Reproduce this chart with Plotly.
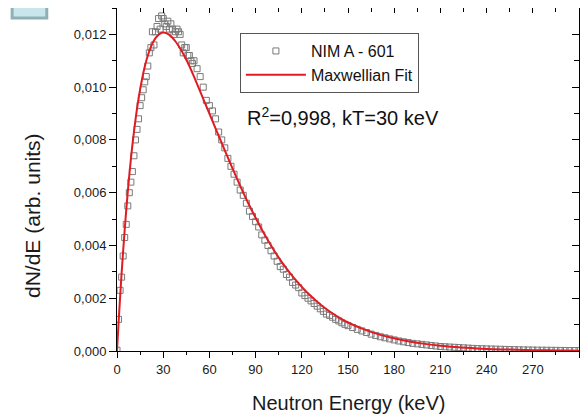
import plotly.graph_objects as go

# ---- data ----
data_energy = [0, 1, 2, 3, 4, 5, 6, 7, 8, 9, 10, 11, 12, 13, 14, 15, 16, 17, 18, 19,
               20, 21, 22, 23, 24, 25, 26, 27, 28, 29, 30, 31, 32, 33, 34, 35, 36, 37, 38, 39,
               40, 41, 42, 43, 44, 45, 46, 47, 48, 49, 50,
               52, 54, 56, 58, 60, 62, 64, 66, 68, 70, 72, 74, 76, 78, 80, 82, 84, 86, 88, 90,
               92, 94, 96, 98, 100, 102, 104, 106, 108, 110, 112, 114, 116, 118, 120, 122, 124,
               126, 128, 130, 132, 134, 136, 138, 140, 142, 144, 146, 148, 150,
               153, 156, 159, 162, 165, 168, 171, 174, 177, 180, 183, 186, 189, 192, 195, 198,
               201, 204, 207, 210, 213, 216, 219, 222, 225, 228, 231, 234, 237, 240, 243, 246,
               249, 252, 255, 258, 261, 264, 267, 270, 273, 276, 279, 282, 285, 288, 291, 294,
               297, 300]
data_values = [0.00003, 0.0012, 0.0023, 0.0028, 0.0036, 0.0043, 0.0048, 0.0055, 0.0060, 0.0064,
               0.0068, 0.0074, 0.0080, 0.0084, 0.0088, 0.0093, 0.0096, 0.0099, 0.0102, 0.0104,
               0.0108, 0.0113, 0.0115, 0.0121, 0.0116, 0.0121, 0.0123, 0.0126, 0.0122, 0.0127,
               0.0126, 0.0124, 0.0123, 0.0125, 0.0122, 0.0124, 0.0122, 0.0120, 0.0121, 0.0122,
               0.0121, 0.0120, 0.0116, 0.0113, 0.0115, 0.0115, 0.0112, 0.0112, 0.0110, 0.0109,
               0.0110,
               0.0107, 0.0104, 0.0100, 0.0095, 0.0093, 0.0091, 0.0088, 0.0083, 0.0080, 0.0077,
               0.0073, 0.0070, 0.0067, 0.0064, 0.0061, 0.0059, 0.0056, 0.0053, 0.0051, 0.0049,
               0.0047, 0.0044, 0.0042, 0.0040, 0.0038, 0.0036, 0.0034, 0.0032, 0.0031, 0.0029,
               0.0028, 0.0026, 0.0025, 0.0024, 0.0022, 0.0021, 0.0020, 0.0019, 0.0018, 0.0017,
               0.0016, 0.0015, 0.0014, 0.00135, 0.00128, 0.0012, 0.00114, 0.00107, 0.00101, 0.00096,
               0.00089, 0.00082, 0.00076, 0.00070, 0.00064, 0.00059, 0.00054, 0.00050, 0.00046,
               0.00042, 0.00038, 0.00035, 0.00032, 0.00029, 0.00027, 0.00025, 0.00023, 0.00021,
               0.00019, 0.00017, 0.00016, 0.00015, 0.00014, 0.00013, 0.00012, 0.00011, 0.00010,
               0.00009, 0.000085, 0.00008, 0.000075, 0.00007, 0.000065, 0.00006, 0.000055, 0.00005,
               0.000046, 0.000042, 0.000039, 0.000036, 0.000033, 0.00003, 0.000028, 0.000026,
               0.000024, 0.000022, 0.00002, 0.000018, 0.000017, 0.000016]

fit_energy = [0, 1, 2, 3, 4, 5, 6, 7, 8, 9, 10, 12, 14, 16, 18, 20, 22, 24, 26, 28, 30, 32, 34,
              36, 38, 40, 42, 44, 46, 48, 50, 55, 60, 65, 70, 75, 80, 85, 90, 95, 100, 105, 110,
              115, 120, 125, 130, 135, 140, 145, 150, 160, 170, 180, 190, 200, 210, 220, 230,
              240, 250, 260, 270, 280, 290, 300]
fit_values = [0.0, 0.00105, 0.00203, 0.00295, 0.0038, 0.0046, 0.00534, 0.00603, 0.00667, 0.00726,
              0.0078, 0.00876, 0.00957, 0.01023, 0.01077, 0.0112, 0.01153, 0.01177, 0.01193,
              0.01203, 0.01207, 0.01205, 0.01198, 0.01187, 0.01173, 0.01156, 0.01137, 0.01115,
              0.01092, 0.01067, 0.0104, 0.0097, 0.0090, 0.0083, 0.0076, 0.00692, 0.00626, 0.00563,
              0.00505, 0.0045, 0.0040, 0.00354, 0.00313, 0.00276, 0.00243, 0.00213, 0.00187,
              0.00163, 0.00142, 0.00124, 0.00108, 0.00083, 0.00063, 0.00048, 0.00036, 0.00027,
              0.0002, 0.00015, 0.00011, 0.00008, 0.00006, 0.000045, 0.000033, 0.000025, 0.000018,
              0.000013]

x_ticks = [0, 30, 60, 90, 120, 150, 180, 210, 240, 270, 300]
y_ticks = [0.000, 0.002, 0.004, 0.006, 0.008, 0.010, 0.012]

FONT = "Arial, Liberation Sans, sans-serif"

fig = go.Figure()
fig.add_trace(go.Scatter(
    x=data_energy, y=data_values, mode="markers", name="NIM A - 601",
    marker=dict(symbol="square-open", size=6, color="#7a7a7a", line=dict(width=1, color="#7a7a7a")),
))
fig.add_trace(go.Scatter(
    x=fit_energy, y=fit_values, mode="lines", name="Maxwellian Fit",
    line=dict(color="#e01b22", width=2, shape="spline"),
))
# dummy trace so the mirrored (inward tick) axes render
fig.add_trace(go.Scatter(x=[None], y=[None], xaxis="x2", yaxis="y2",
                         showlegend=False, hoverinfo="skip"))

axis_common = dict(showgrid=False, zeroline=False, showline=True, linecolor="black",
                   linewidth=1, tickcolor="black", tickwidth=1)

fig.update_layout(
    width=572, height=407,
    margin=dict(l=109, r=1, t=0, b=64),
    paper_bgcolor="white", plot_bgcolor="white",
    separators=", ",
    font=dict(family=FONT, color="#1a1a1a"),
    xaxis=dict(range=[0, 300], tickvals=x_ticks, ticks="outside", ticklen=6,
               minor=dict(dtick=15, tick0=0, ticks="outside", ticklen=3, tickcolor="black"),
               tickfont=dict(size=13, family=FONT, color="#1a1a1a"), **axis_common),
    yaxis=dict(range=[0, 0.0130], tickvals=y_ticks, tickformat=".3f", ticks="outside",
               ticklen=7, minor=dict(dtick=0.001, tick0=0, ticks="outside", ticklen=4,
                                     tickcolor="black"),
               tickfont=dict(size=13, family=FONT, color="#1a1a1a"), **axis_common),
    xaxis2=dict(range=[0, 300], overlaying="x", side="top", anchor="y", tickvals=x_ticks,
                ticks="inside", ticklen=5, showticklabels=False,
                minor=dict(dtick=15, tick0=0, ticks="inside", ticklen=4, tickcolor="black"),
                **axis_common),
    yaxis2=dict(range=[0, 0.0130], overlaying="y", side="right", anchor="x", tickvals=y_ticks,
                ticks="inside", ticklen=7, showticklabels=False,
                minor=dict(dtick=0.001, tick0=0, ticks="inside", ticklen=5, tickcolor="black"),
                **axis_common),
    legend=dict(x=0.266, y=0.927, xanchor="left", yanchor="top",
                bgcolor="white", bordercolor="#555555", borderwidth=1,
                font=dict(size=16, family=FONT, color="#111111"),
                itemwidth=60, tracegroupgap=0),
    showlegend=True,
    annotations=[
        dict(text="R<sup>2</sup>=0,998, kT=30 keV", xref="paper", yref="paper",
             x=0.277, y=0.685, xanchor="left", yanchor="middle", showarrow=False,
             font=dict(size=20, family=FONT, color="#111111")),
        dict(text="Neutron Energy (keV)", xref="paper", yref="paper",
             x=0.5, y=-0.1516, xanchor="center", yanchor="middle", showarrow=False,
             font=dict(size=20, family=FONT, color="#1a1a1a")),
        dict(text="dN/dE (arb. units)", xref="paper", yref="paper", textangle=-90,
             x=-0.184, y=0.3965, xanchor="center", yanchor="middle", showarrow=False,
             font=dict(size=21, family=FONT, color="#1a1a1a")),
    ],
    shapes=[
        dict(type="rect", xref="paper", yref="paper", x0=-0.227, x1=-0.152,
             y0=0.9708, y1=1.04, fillcolor="#c9e6ec", line=dict(color="#8fb1b6", width=3),
             layer="above"),
    ],
)

fig.write_html("out.html")
